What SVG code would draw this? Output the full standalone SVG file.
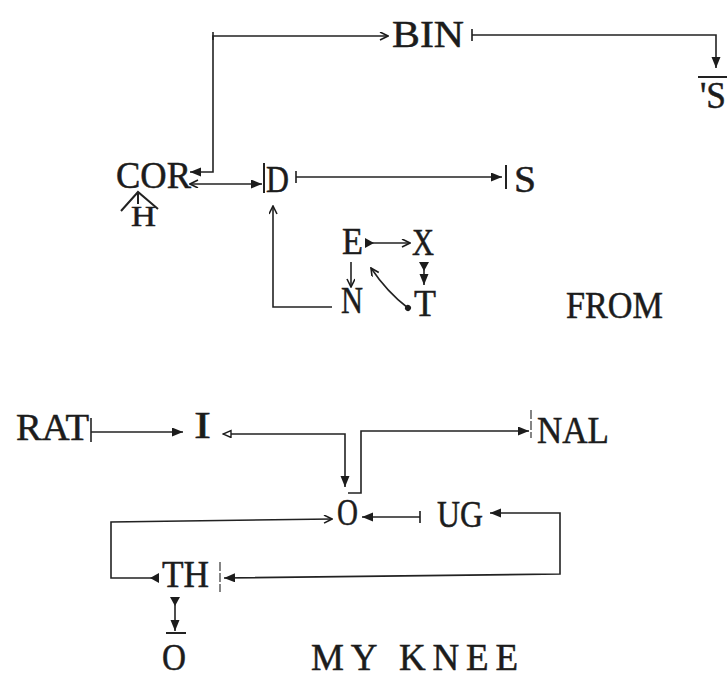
<svg xmlns="http://www.w3.org/2000/svg" width="727" height="693" viewBox="0 0 727 693">
<style>
text{font-family:"Liberation Serif","Times New Roman",serif;font-size:37px;fill:#1c1c1c;stroke:#1c1c1c;stroke-width:0.5}
.c{fill:none;stroke:#222;stroke-width:1.6}
.d{fill:none;stroke:#444;stroke-width:1.3;stroke-dasharray:9 2}
.b{fill:none;stroke:#222;stroke-width:2}
</style>
<defs>
<marker id="fa" markerUnits="userSpaceOnUse" markerWidth="12" markerHeight="10" refX="11" refY="4.5" orient="auto-start-reverse"><path d="M0,0 L11,4.5 L0,9 z" fill="#1c1c1c"/></marker>
<marker id="ff" markerUnits="userSpaceOnUse" markerWidth="11" markerHeight="11" refX="0" refY="5" orient="auto"><path d="M0,0 L9,5 L0,10 z" fill="#1c1c1c"/></marker>
<marker id="oa" markerUnits="userSpaceOnUse" markerWidth="10" markerHeight="10" refX="9" refY="4" orient="auto-start-reverse"><path d="M1,0 L9,4 L1,8" fill="none" stroke="#1c1c1c" stroke-width="1.6"/></marker>
<marker id="oh" markerUnits="userSpaceOnUse" markerWidth="10" markerHeight="10" refX="9" refY="4" orient="auto-start-reverse"><path d="M1,0.5 L9,4 L1,7.5 z" fill="#fff" stroke="#1c1c1c" stroke-width="1.4"/></marker>
<marker id="tk" markerUnits="userSpaceOnUse" markerWidth="4" markerHeight="12" refX="2" refY="6" orient="auto"><path d="M2,0 V12" stroke="#1c1c1c" stroke-width="1.6"/></marker>
<marker id="dt" markerUnits="userSpaceOnUse" markerWidth="8" markerHeight="8" refX="4" refY="4" orient="auto"><circle cx="4" cy="4" r="3" fill="#1c1c1c"/></marker>
</defs>
<g id="connectors">
<path class="c" d="M190,172 H213 V36 H388" marker-start="url(#fa)" marker-end="url(#oa)"/>
<path class="c" d="M213,32 V40"/>
<path class="c" d="M472,35 H716 V68" marker-start="url(#tk)" marker-end="url(#fa)"/>
<path class="b" d="M698,77 H727"/>
<path class="c" d="M190,184 H262" marker-start="url(#oa)" marker-end="url(#fa)"/>
<path class="b" d="M264,163 V193"/>
<path class="c" d="M296,177 H502" marker-start="url(#tk)" marker-end="url(#fa)"/>
<path class="b" d="M506,165 V189"/>
<path class="c" d="M332,307 H273 V206" marker-end="url(#oa)"/>
<path class="c" d="M365,243 H410" marker-start="url(#ff)" marker-end="url(#oa)"/>
<path class="c" d="M351,262 V287" marker-end="url(#oa)"/>
<path class="c" d="M424,262 V285" marker-start="url(#ff)" marker-end="url(#fa)"/>
<path class="c" d="M408,308 Q387,292 371,268" marker-start="url(#dt)" marker-end="url(#oa)"/>
<path class="c" d="M91,432 H183" marker-end="url(#fa)"/>
<path class="c" d="M91,418 V442"/>
<path class="c" d="M223,434 H345 V487" marker-start="url(#oh)" marker-end="url(#fa)"/>
<path class="c" d="M348,493 H361 V431 H529" marker-end="url(#fa)"/>
<path class="d" d="M531,410 V438"/>
<path class="c" d="M159,578 H111 V522 L332,519" marker-start="url(#ff)" marker-end="url(#oa)"/>
<path class="c" d="M362,517 H420" marker-start="url(#fa)" marker-end="url(#tk)"/>
<path class="c" d="M490,513 H560 V574 L224,578" marker-start="url(#fa)" marker-end="url(#fa)"/>
<path class="d" d="M220,562 V592"/>
<path class="c" d="M175,597 V631" marker-start="url(#ff)" marker-end="url(#fa)"/>
<path class="b" d="M166,633 H186"/>
<path class="b" d="M121,211 L138,192 L158,209 M138,192 V204"/>
</g>
<g id="n-bin"><text x="392" y="47" textLength="72" lengthAdjust="spacingAndGlyphs">BIN</text></g>
<g id="n-s-top"><text x="700" y="108" textLength="26" lengthAdjust="spacingAndGlyphs">'S</text></g>
<g id="n-cor"><text x="116" y="188" textLength="75" lengthAdjust="spacingAndGlyphs">COR</text></g>
<g id="n-h"><text x="131" y="226" textLength="25" lengthAdjust="spacingAndGlyphs" style="font-size:30px">H</text></g>
<g id="n-d"><text x="266" y="192" textLength="23" lengthAdjust="spacingAndGlyphs">D</text></g>
<g id="n-s"><text x="514" y="192" textLength="22" lengthAdjust="spacingAndGlyphs">S</text></g>
<g id="n-e"><text x="342" y="254" textLength="21" lengthAdjust="spacingAndGlyphs">E</text></g>
<g id="n-x"><text x="412" y="255" textLength="22" lengthAdjust="spacingAndGlyphs">X</text></g>
<g id="n-n"><text x="341" y="313" textLength="22" lengthAdjust="spacingAndGlyphs">N</text></g>
<g id="n-t"><text x="414" y="316" textLength="22" lengthAdjust="spacingAndGlyphs">T</text></g>
<g id="n-from"><text x="566" y="318" textLength="97" lengthAdjust="spacingAndGlyphs">FROM</text></g>
<g id="n-rat"><text x="16" y="440" textLength="73" lengthAdjust="spacingAndGlyphs">RAT</text></g>
<g id="n-i"><text x="194" y="438" textLength="17" lengthAdjust="spacingAndGlyphs">I</text></g>
<g id="n-nal"><text x="537" y="443" textLength="72" lengthAdjust="spacingAndGlyphs">NAL</text></g>
<g id="n-o1"><text x="337" y="525" textLength="21" lengthAdjust="spacingAndGlyphs">O</text></g>
<g id="n-ug"><text x="437" y="527" textLength="46" lengthAdjust="spacingAndGlyphs">UG</text></g>
<g id="n-th"><text x="162" y="587" textLength="47" lengthAdjust="spacingAndGlyphs">TH</text></g>
<g id="n-o2"><text x="162" y="670" textLength="24" lengthAdjust="spacingAndGlyphs">O</text></g>
<g id="n-myknee"><text x="311" y="670" textLength="207" lengthAdjust="spacing">MY KNEE</text></g>
</svg>
